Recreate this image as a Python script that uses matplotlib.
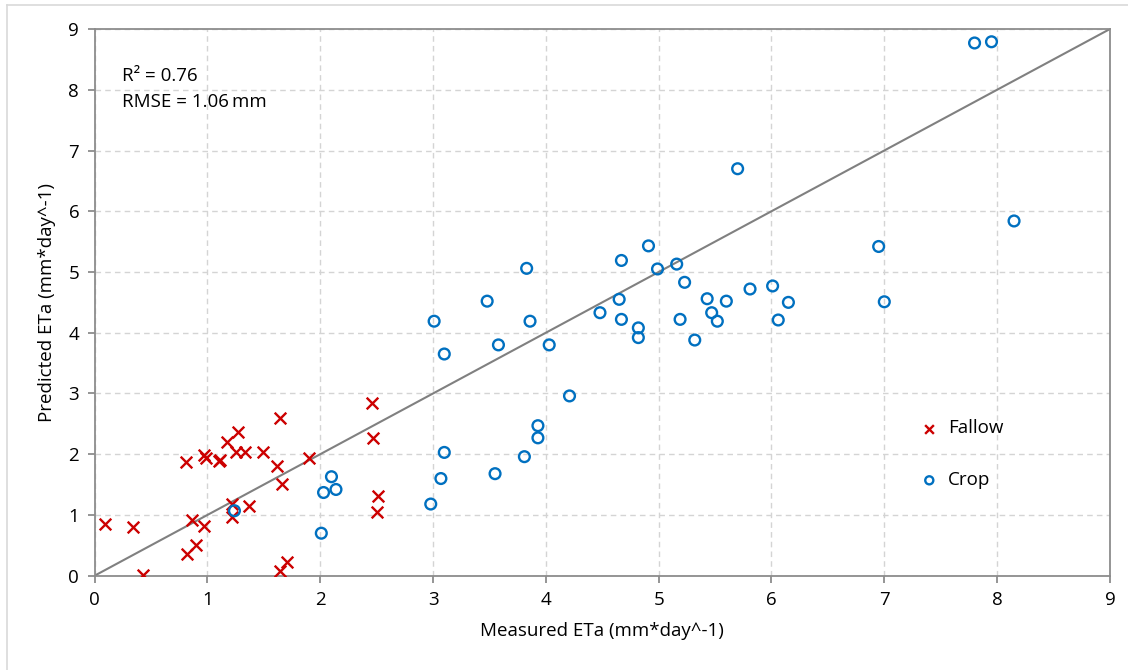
import numpy as np
from matplotlib import pyplot as plt
from matplotlib.lines import Line2D

# Fallow points (measured, predicted)
fallow_x = [0.09, 0.34, 0.43, 0.81, 0.82, 0.86, 0.90, 0.97, 0.97, 0.99, 1.10, 1.11,
            1.17, 1.27, 1.25, 1.33, 1.22, 1.22, 1.37, 1.49, 1.64, 1.62, 1.66, 1.64,
            1.71, 1.90, 2.46, 2.47, 2.51, 2.50]
fallow_y = [0.85, 0.81, 0.02, 1.88, 0.35, 0.91, 0.51, 0.82, 1.98, 1.94, 1.89, 1.91,
            2.20, 2.36, 2.04, 2.03, 1.18, 0.97, 1.14, 2.03, 2.59, 1.81, 1.51, 0.08,
            0.23, 1.93, 2.84, 2.26, 1.31, 1.05]

# Crop points
crop_x = [1.24, 2.01, 2.03, 2.10, 2.14, 2.98, 3.07, 3.10, 3.01, 3.10, 3.48, 3.55,
          3.58, 3.81, 3.83, 3.86, 3.93, 3.93, 4.03, 4.21, 4.48, 4.65, 4.67, 4.67,
          4.82, 4.82, 4.91, 4.99, 5.16, 5.19, 5.23, 5.32, 5.43, 5.47, 5.52, 5.60,
          5.70, 5.81, 6.01, 6.06, 6.15, 6.95, 7.00, 7.80, 7.95, 8.15]
crop_y = [1.07, 0.70, 1.37, 1.63, 1.42, 1.18, 1.60, 2.03, 4.19, 3.65, 4.52, 1.68,
          3.80, 1.96, 5.06, 4.19, 2.47, 2.27, 3.80, 2.96, 4.33, 4.55, 4.22, 5.19,
          4.08, 3.92, 5.43, 5.05, 5.13, 4.22, 4.83, 3.88, 4.56, 4.33, 4.19, 4.52,
          6.70, 4.72, 4.77, 4.21, 4.50, 5.42, 4.51, 8.77, 8.79, 5.84]

ticks = list(range(0, 10))

plt.rcParams['font.family'] = ['Open Sans', 'DejaVu Sans']

fig = plt.figure(figsize=(11.28, 6.70), dpi=100)
ax = fig.add_axes([0.0838, 0.1407, 0.9002, 0.816])

# 1:1 line
ax.plot([0, 9], [0, 9], color='#808080', lw=1.5, zorder=2)

ax.scatter(fallow_x, fallow_y, marker='x', s=70, color='#CC0000', linewidths=1.7,
           label='Fallow', zorder=3)
ax.scatter(crop_x, crop_y, marker='o', s=60, facecolors='none', edgecolors='#0070C0',
           linewidths=1.7, label='Crop', zorder=3)

ax.set_xlim(0, 9)
ax.set_ylim(0, 9)
ax.set_xticks(ticks)
ax.set_yticks(ticks)
ax.grid(True, color='#D4D4D4', linestyle=(0, (4, 3)), lw=1)
ax.set_axisbelow(True)
for sp in ax.spines.values():
    sp.set_color('#8C8C8C')
    sp.set_linewidth(1.3)
ax.tick_params(direction='out', length=5, width=1.3, color='#8C8C8C',
               labelsize=13.5, pad=6)

ax.set_xlabel('Measured ETa (mm*day^-1)', fontsize=13.5, labelpad=9)
ax.set_ylabel('Predicted ETa (mm*day^-1)', fontsize=13.5, labelpad=9)

ax.text(0.24, 8.22, 'R² = 0.76', fontsize=13.5, va='center')
ax.text(0.24, 7.80, 'RMSE = 1.06\u2009mm', fontsize=13.5, va='center')

ax.legend(loc='center left', bbox_to_anchor=(0.787, 0.222), frameon=False,
          fontsize=13.5, labelspacing=1.8, handletextpad=0.0, markerscale=0.75)

# thin frame around the picture (left and top edges)
fig.add_artist(Line2D([0.006, 0.006], [0, 0.993], color='#D9D9D9', lw=1.2))
fig.add_artist(Line2D([0.006, 1], [0.993, 0.993], color='#D9D9D9', lw=1.2))

fig.savefig('out.png', dpi=100)
